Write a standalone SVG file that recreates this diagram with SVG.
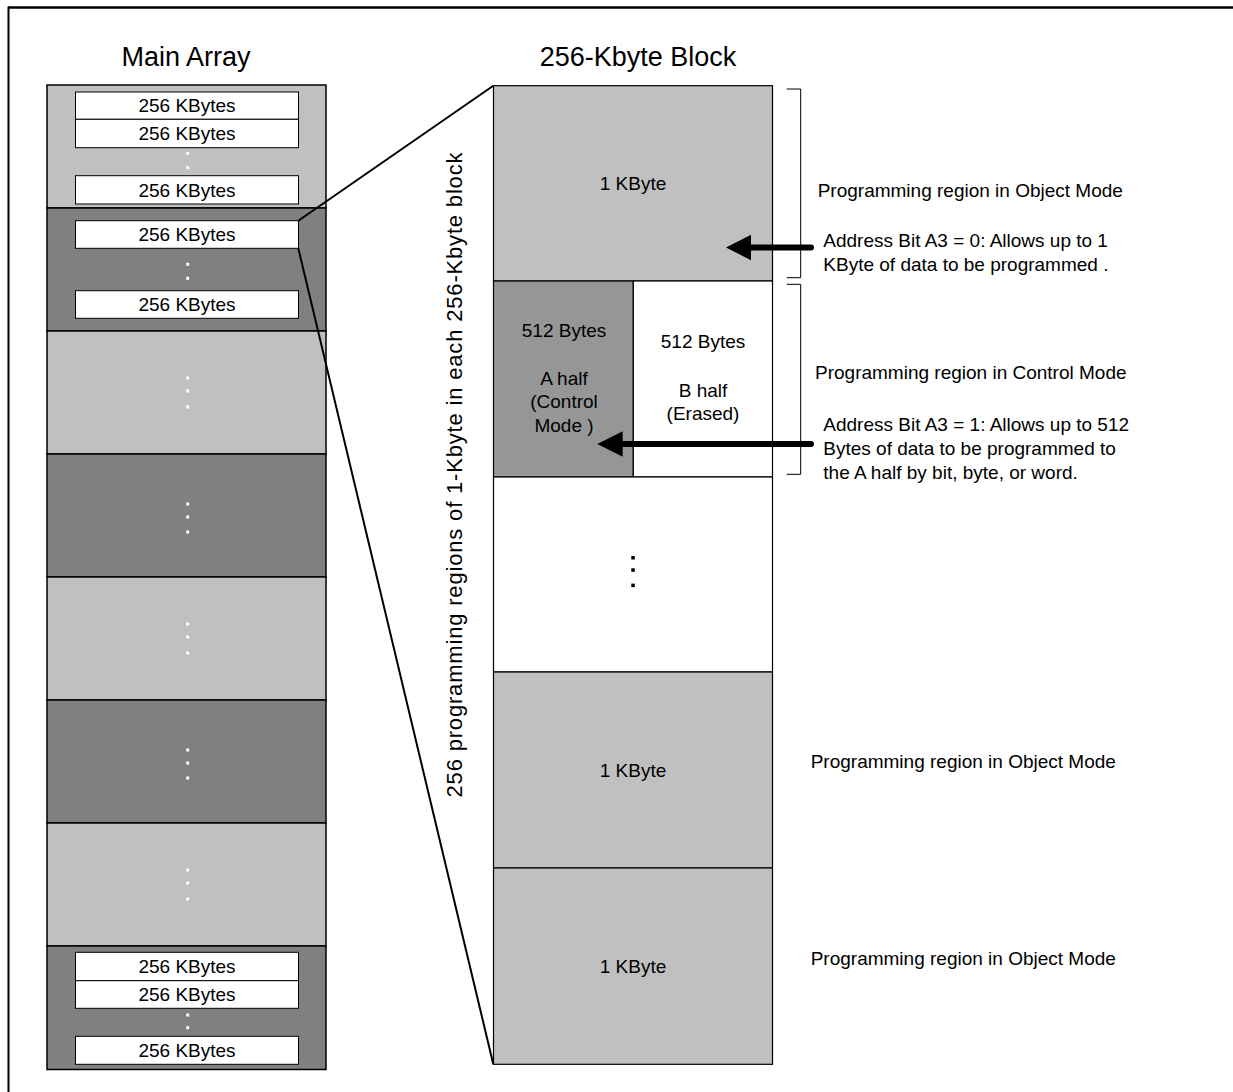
<svg xmlns="http://www.w3.org/2000/svg" width="1233" height="1092" viewBox="0 0 1233 1092">
<style>
text{font-family:"Liberation Sans",Arial,sans-serif;fill:#000}
.t27{font-size:27px}
.t19{font-size:19px}
.c{text-anchor:middle}
.lt{fill:#c0c0c0;stroke:#000;stroke-width:1.5}
.dk{fill:#808080;stroke:#000;stroke-width:1.5}
.wb{fill:#fff;stroke:#000;stroke-width:1}
.wd{fill:#fff}
.bd{fill:#000}
.blk{stroke:#000;stroke-width:1.2}
.conn{stroke:#000;stroke-width:2;fill:none}
.br{stroke:#000;stroke-width:1;fill:none}
.arr{stroke:#000;stroke-width:6;stroke-linecap:round;fill:none}
</style>
<rect x="0" y="0" width="1233" height="1092" fill="#fff"/>
<g id="frame">
<line x1="8" y1="7.5" x2="1233" y2="7.5" stroke="#000" stroke-width="2.5"/>
<line x1="8.5" y1="6.5" x2="8.5" y2="1092" stroke="#000" stroke-width="2"/>
</g>
<g id="titles">
<text class="t27 c" x="186" y="66">Main Array</text>
<text class="t27 c" x="638" y="66">256-Kbyte Block</text>
</g>
<g id="main-array">
<rect class="lt" x="47" y="85" width="279" height="123"/>
<rect class="dk" x="47" y="208" width="279" height="123"/>
<rect class="lt" x="47" y="331" width="279" height="123"/>
<rect class="dk" x="47" y="454" width="279" height="123"/>
<rect class="lt" x="47" y="577" width="279" height="123"/>
<rect class="dk" x="47" y="700" width="279" height="123"/>
<rect class="lt" x="47" y="823" width="279" height="123"/>
<rect class="dk" x="47" y="946" width="279" height="123.5"/>
</g>
<g id="kb-boxes">
<g id="kb1"><rect class="wb" x="75.5" y="92" width="223" height="27.3"/><text class="t19 c" x="187" y="112.4">256 KBytes</text></g>
<g id="kb2"><rect class="wb" x="75.5" y="119.3" width="223" height="28.4"/><text class="t19 c" x="187" y="140.2">256 KBytes</text></g>
<g id="kb3"><rect class="wb" x="75.5" y="175.7" width="223" height="28.3"/><text class="t19 c" x="187" y="196.5">256 KBytes</text></g>
<g id="kb4"><rect class="wb" x="75.5" y="220.7" width="223" height="27.6"/><text class="t19 c" x="187" y="241.2">256 KBytes</text></g>
<g id="kb5"><rect class="wb" x="75.5" y="290.7" width="223" height="27.6"/><text class="t19 c" x="187" y="311.2">256 KBytes</text></g>
<g id="kb6"><rect class="wb" x="75.5" y="952.3" width="223" height="28.4"/><text class="t19 c" x="187" y="973.2">256 KBytes</text></g>
<g id="kb7"><rect class="wb" x="75.5" y="980.7" width="223" height="27.6"/><text class="t19 c" x="187" y="1001.2">256 KBytes</text></g>
<g id="kb8"><rect class="wb" x="75.5" y="1036.3" width="223" height="28"/><text class="t19 c" x="187" y="1057">256 KBytes</text></g>
</g>
<g id="white-dots">
<rect class="wd" x="186.2" y="151.8" width="3" height="3"/>
<rect class="wd" x="186.2" y="166.2" width="3" height="3"/>
<rect class="wd" x="186.2" y="262.8" width="3" height="3"/>
<rect class="wd" x="186.2" y="276.8" width="3" height="3"/>
<rect class="wd" x="186.2" y="376.5" width="3" height="3"/>
<rect class="wd" x="186.2" y="389.5" width="3" height="3"/>
<rect class="wd" x="186.2" y="405.5" width="3" height="3"/>
<rect class="wd" x="186.2" y="502.5" width="3" height="3"/>
<rect class="wd" x="186.2" y="515.5" width="3" height="3"/>
<rect class="wd" x="186.2" y="530.5" width="3" height="3"/>
<rect class="wd" x="186.2" y="622.5" width="3" height="3"/>
<rect class="wd" x="186.2" y="635.5" width="3" height="3"/>
<rect class="wd" x="186.2" y="651.5" width="3" height="3"/>
<rect class="wd" x="186.2" y="748.5" width="3" height="3"/>
<rect class="wd" x="186.2" y="761.5" width="3" height="3"/>
<rect class="wd" x="186.2" y="776.5" width="3" height="3"/>
<rect class="wd" x="186.2" y="868.5" width="3" height="3"/>
<rect class="wd" x="186.2" y="881.5" width="3" height="3"/>
<rect class="wd" x="186.2" y="897.5" width="3" height="3"/>
<rect class="wd" x="186.2" y="1013.5" width="3" height="3"/>
<rect class="wd" x="186.2" y="1026.2" width="3" height="3"/>
</g>
<g id="connectors">
<line class="conn" x1="298.3" y1="220.7" x2="493.3" y2="85.7"/>
<line class="conn" x1="298.3" y1="248.3" x2="493.3" y2="1064.3"/>
</g>
<g id="block-label">
<text font-size="22" class="c" transform="translate(462,475) rotate(-90)" x="0" y="0" textLength="645" lengthAdjust="spacing">256 programming regions of 1-Kbyte in each 256-Kbyte block</text>
</g>
<g id="region1">
<rect class="blk" fill="#c0c0c0" x="493.5" y="85.7" width="279" height="195.3"/>
<text class="t19 c" x="633" y="190">1 KByte</text>
</g>
<g id="region-a">
<rect class="blk" fill="#969696" x="493.5" y="281" width="139.8" height="196"/>
<text class="t19 c" x="564" y="336.7">512 Bytes</text>
<text class="t19 c" x="564" y="385">A half</text>
<text class="t19 c" x="564" y="408.3">(Control</text>
<text class="t19 c" x="564" y="431.7">Mode )</text>
</g>
<g id="region-b">
<rect class="blk" fill="#fff" x="633.3" y="281" width="139.2" height="196"/>
<text class="t19 c" x="703" y="348.3">512 Bytes</text>
<text class="t19 c" x="703" y="396.7">B half</text>
<text class="t19 c" x="703" y="420">(Erased)</text>
</g>
<g id="region-gap">
<rect class="blk" fill="#fff" x="493.5" y="477" width="279" height="195"/>
<rect class="bd" x="631.3" y="556" width="3.5" height="3.5"/>
<rect class="bd" x="631.3" y="568.3" width="3.5" height="3.5"/>
<rect class="bd" x="631.3" y="583.6" width="3.5" height="3.5"/>
</g>
<g id="region4">
<rect class="blk" fill="#c0c0c0" x="493.5" y="672" width="279" height="196"/>
<text class="t19 c" x="633" y="776.7">1 KByte</text>
</g>
<g id="region5">
<rect class="blk" fill="#c0c0c0" x="493.5" y="868" width="279" height="196.3"/>
<text class="t19 c" x="633" y="972.7">1 KByte</text>
</g>
<g id="brackets">
<path class="br" d="M786.7,89 H800.7 V277.7 H786.7"/>
<path class="br" d="M786.7,284.3 H800.7 V474.3 H786.7"/>
</g>
<g id="arrows">
<line class="arr" x1="811" y1="247.5" x2="748" y2="247.5"/>
<polygon points="726,247.5 751,234.8 751,260.2" fill="#000"/>
<line class="arr" x1="811" y1="444" x2="620" y2="444"/>
<polygon points="597.3,444 622.7,431.3 622.7,456.7" fill="#000"/>
</g>
<g id="notes">
<text class="t19" x="817.7" y="196.7">Programming region in Object Mode</text>
<text class="t19" x="823.3" y="246.7">Address Bit A3 = 0: Allows up to 1</text>
<text class="t19" x="823.3" y="270.7">KByte of data to be programmed .</text>
<text class="t19" x="815" y="379">Programming region in Control Mode</text>
<text class="t19" x="823.3" y="430.7">Address Bit A3 = 1: Allows up to 512</text>
<text class="t19" x="823.3" y="454.7">Bytes of data to be programmed to</text>
<text class="t19" x="823.3" y="478.7">the A half by bit, byte, or word.</text>
<text class="t19" x="810.7" y="768.3">Programming region in Object Mode</text>
<text class="t19" x="810.7" y="965">Programming region in Object Mode</text>
</g>
</svg>
